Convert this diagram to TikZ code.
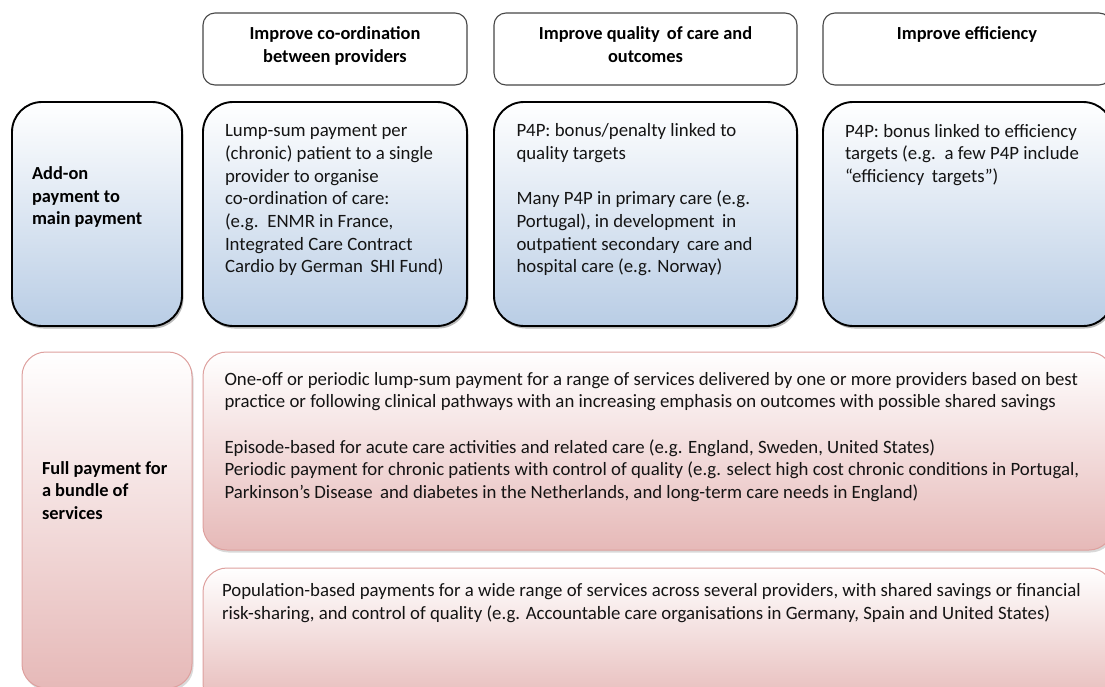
\documentclass[tikz,border=0pt]{standalone}
\usepackage{fontspec}
\setmainfont{Carlito}
\usetikzlibrary{shadows}

\definecolor{blueend}{RGB}{185,205,229}
\definecolor{pinkend}{RGB}{230,185,184}
\definecolor{pinkline}{RGB}{222,160,158}
\definecolor{hdrline}{RGB}{70,70,70}
\definecolor{bodytext}{RGB}{20,20,20}

% Multi-line text nodes sit on the baseline of their last line.
\tikzset{
  boxbase/.style={anchor=north west, inner sep=0pt, outer sep=0pt},
  hdrbox/.style={boxbase, draw=hdrline, line width=1.1pt, rounded corners=12pt, fill=white},
  bluebox/.style={boxbase, draw=black, line width=1.9pt, rounded corners=30pt,
    top color=white, bottom color=blueend,
    drop shadow={shadow xshift=1.5pt, shadow yshift=-2.5pt, fill=black!60, opacity=0.45}},
  pinkbox/.style={boxbase, draw=pinkline, line width=1pt, rounded corners=24pt,
    top color=white, bottom color=pinkend,
    drop shadow={shadow xshift=1.5pt, shadow yshift=-2.5pt, fill=black!50, opacity=0.3}},
  txt/.style={inner sep=0pt, outer sep=0pt, text=bodytext,
    font=\fontsize{18.8}{22.7}\selectfont},
  bodytxt/.style={txt, anchor=base west, align=left},
  hdrtxt/.style={txt, anchor=base, align=center, text=black,
    font=\fontsize{18.4}{22.5}\selectfont\bfseries},
  sidetxt/.style={txt, anchor=base west, align=left, text=black,
    font=\fontsize{18.4}{22.7}\selectfont\bfseries},
}

\begin{document}
\begin{tikzpicture}[x=1pt, y=-1pt]
  \useasboundingbox (0,0) rectangle (1105,686);
  \clip (0,0) rectangle (1105,686);

  % column headers
  \node[hdrbox, minimum width=264pt, minimum height=72pt] (hdrCoord) at (203,13) {};
  \node[hdrbox, minimum width=303pt, minimum height=72pt] (hdrQual) at (494,13) {};
  \node[hdrbox, minimum width=288pt, minimum height=72pt] (hdrEff) at (823,13) {};
  \node[hdrtxt] (hdrCoordText) at (335,62) {Improve co-ordination\\between providers};
  \node[hdrtxt] (hdrQualText) at (645.5,62) {Improve quality\, of care and\\outcomes};
  \node[hdrtxt] (hdrEffText) at (967,39.5) {Improve efficiency};

  % add-on payment row
  \node[bluebox, minimum width=170pt, minimum height=224pt] (addon) at (12,102) {};
  \node[bluebox, minimum width=264pt, minimum height=224pt] (coord) at (203,102) {};
  \node[bluebox, minimum width=303pt, minimum height=224pt] (qual) at (494,102) {};
  \node[bluebox, minimum width=290pt, minimum height=224pt] (eff) at (823,102) {};

  \node[sidetxt] (addonText) at (32,224.9) {Add-on\\payment to\\main payment};
  \node[bodytxt] (coordText) at (225,272.9) {Lump-sum payment per\\(chronic) patient to a single\\provider to organise\\co-ordination of care:\\(e.g.\, ENMR in France,\\Integrated Care Contract\\Cardio by German\, SHI Fund)};
  \node[bodytxt] (qualText) at (516.5,272.9) {P4P: bonus/penalty linked to\\quality targets\\[22.7pt]Many P4P in primary care (e.g.\\Portugal), in development\, in\\outpatient secondary\, care and\\hospital care (e.g. Norway)};
  \node[bodytxt] (effText) at (845,182.4) {P4P: bonus linked to efficiency\\targets (e.g.\, a few P4P include\\“efficiency\, targets”)};

  % full payment row
  \node[pinkbox, minimum width=170pt, minimum height=336pt] (full) at (22,352) {};
  \node[pinkbox, minimum width=910pt, minimum height=198pt] (episode) at (203,352) {};
  \node[pinkbox, minimum width=910pt, minimum height=140pt] (population) at (203,568) {};

  \node[sidetxt] (fullText) at (42,519.4) {Full payment for\\a bundle of\\services};
  \node[bodytxt] (episodeText) at (224.5,498.6) {One-off or periodic lump-sum payment for a range of services delivered by one or more providers based on best\\practice or following clinical pathways with an increasing emphasis on outcomes with possible shared savings\\[22.7pt]Episode-based for acute care activities and related care (e.g. England, Sweden, United States)\\Periodic payment for chronic patients with control of quality (e.g. select high cost chronic conditions in Portugal,\\Parkinson’s Disease\, and diabetes in the Netherlands, and long-term care needs in England)};
  \node[bodytxt] (populationText) at (222,619.4) {Population-based payments for a wide range of services across several providers, with shared savings or financial\\risk-sharing, and control of quality (e.g. Accountable care organisations in Germany, Spain and United States)};
\end{tikzpicture}
\end{document}
